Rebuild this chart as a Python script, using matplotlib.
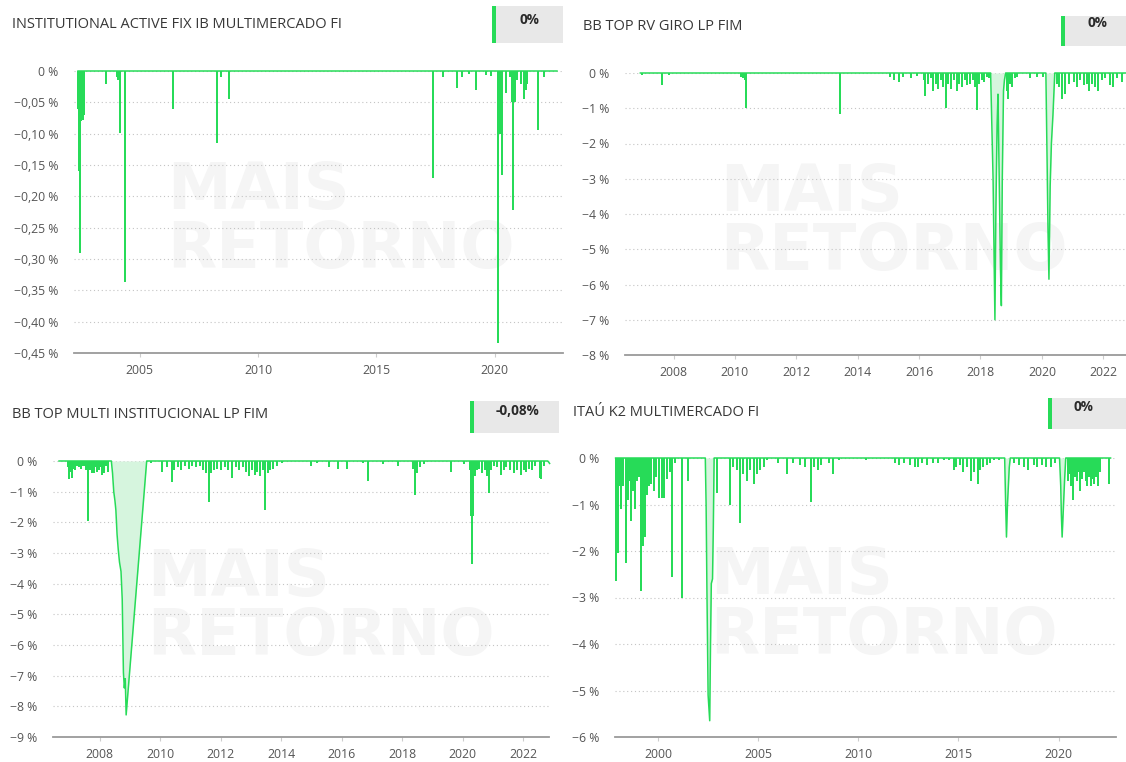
import matplotlib
matplotlib.use('Agg')
import matplotlib.pyplot as plt
from matplotlib.patches import Rectangle

plt.rcParams['font.family'] = ['Open Sans', 'DejaVu Sans']

W, H = 1126, 762
GREEN = '#27db58'
FILL = '#d6f5de'

# ---- data (drawdown in %, dates as decimal years) ----
# INSTITUTIONAL ACTIVE FIX IB MULTIMERCADO FI
iafix_line_yr = [2002.38, 2022.62]
iafix_line_dd = [0, 0]
iafix_spike_yr = [2002.40, 2002.42, 2002.44, 2002.46, 2002.49, 2002.51, 2002.53, 2002.55,
                  2002.57, 2002.59, 2002.61, 2002.63, 2003.56, 2004.05, 2004.10, 2004.15,
                  2004.38, 2006.40, 2008.28, 2008.45, 2008.78, 2017.38, 2017.83, 2018.42,
                  2018.62, 2018.92, 2019.20, 2019.61, 2019.84, 2020.12, 2020.15, 2020.22,
                  2020.29, 2020.47, 2020.65, 2020.74, 2020.78, 2020.85, 2020.95, 2021.10,
                  2021.25, 2021.31, 2021.37, 2021.84, 2022.07]
iafix_spike_dd = [-0.06, -0.16, -0.08, -0.08, -0.29, -0.08, -0.08, -0.078,
                  -0.078, -0.078, -0.075, -0.07, -0.02, -0.01, -0.015, -0.099,
                  -0.336, -0.06, -0.115, -0.01, -0.044, -0.171, -0.01, -0.027,
                  -0.01, -0.005, -0.03, -0.006, -0.008, -0.10, -0.434, -0.10,
                  -0.166, -0.035, -0.01, -0.05, -0.222, -0.05, -0.015, -0.02,
                  -0.045, -0.03, -0.02, -0.094, -0.01]

# BB TOP RV GIRO LP FIM
rvgiro_line_yr = [2006.92, 2018.33, 2018.37, 2018.41, 2018.44, 2018.47, 2018.50, 2018.54,
                  2018.57, 2018.61, 2018.65, 2018.68, 2018.71, 2018.75, 2018.78, 2018.82,
                  2020.13, 2020.17, 2020.20, 2020.23, 2020.27, 2020.31, 2020.36, 2020.42,
                  2022.74]
rvgiro_line_dd = [0, 0, -1.5, -3.0, -5.0, -7.0, -4.0, -1.5,
                  -0.6, -3.0, -5.5, -6.6, -3.0, -0.5, -0.2, 0,
                  0, -2.5, -4.5, -5.85, -3.2, -2.0, -1.2, 0,
                  0]
rvgiro_spike_yr = [2006.98, 2007.63, 2007.86, 2010.20, 2010.26, 2010.32, 2010.35, 2013.42,
                   2015.05, 2015.17, 2015.34, 2015.46, 2015.75, 2015.93, 2016.16, 2016.19,
                   2016.28, 2016.40, 2016.46, 2016.55, 2016.63, 2016.71, 2016.78, 2016.87,
                   2016.95, 2017.04, 2017.13, 2017.22, 2017.30, 2017.39, 2017.49, 2017.57,
                   2017.65, 2017.74, 2017.81, 2017.88, 2017.95, 2018.04, 2018.12, 2018.21,
                   2018.28, 2018.86, 2018.91, 2018.97, 2019.03, 2019.12, 2019.20, 2019.61,
                   2019.85, 2020.03, 2020.48, 2020.55, 2020.65, 2020.76, 2020.87, 2021.03,
                   2021.14, 2021.25, 2021.36, 2021.46, 2021.54, 2021.63, 2021.73, 2021.84,
                   2021.95, 2022.05, 2022.22, 2022.33, 2022.44, 2022.60]
rvgiro_spike_dd = [-0.05, -0.33, -0.05, -0.1, -0.15, -0.2, -1.0, -1.15,
                   -0.1, -0.2, -0.25, -0.1, -0.15, -0.08, -0.2, -0.65,
                   -0.3, -0.15, -0.5, -0.3, -0.45, -0.2, -0.4, -1.0,
                   -0.3, -0.45, -0.2, -0.5, -0.3, -0.4, -0.2, -0.35,
                   -0.3, -0.2, -0.4, -1.05, -0.3, -0.2, -0.25, -0.1,
                   -0.15, -0.5, -0.75, -0.3, -0.4, -0.15, -0.1, -0.15,
                   -0.1, -0.1, -0.3, -0.4, -0.75, -0.6, -0.3, -0.25,
                   -0.4, -0.2, -0.35, -0.3, -0.5, -0.3, -0.4, -0.5,
                   -0.2, -0.15, -0.35, -0.4, -0.15, -0.25]

# BB TOP MULTI INSTITUCIONAL LP FIM
multi_line_yr = [2006.65, 2008.38, 2008.42, 2008.46, 2008.50, 2008.53, 2008.57, 2008.61,
                 2008.65, 2008.70, 2008.74, 2008.78, 2008.81, 2008.84, 2008.87, 2009.55,
                 2022.82, 2022.88]
multi_line_dd = [0, 0, -0.4, -1.0, -1.3, -1.6, -2.4, -2.9,
                 -3.3, -3.6, -4.5, -6.9, -7.4, -7.1, -8.28, 0,
                 0, -0.08]
multi_spike_yr = [2006.95, 2006.99, 2007.04, 2007.07, 2007.13, 2007.19, 2007.25, 2007.31,
                  2007.37, 2007.43, 2007.49, 2007.55, 2007.61, 2007.67, 2007.73, 2007.79,
                  2007.85, 2007.90, 2007.96, 2008.02, 2008.08, 2008.14, 2008.20, 2008.26,
                  2009.69, 2010.05, 2010.23, 2010.38, 2010.46, 2010.58, 2010.70, 2010.82,
                  2010.94, 2011.06, 2011.18, 2011.30, 2011.42, 2011.50, 2011.60, 2011.69,
                  2011.77, 2011.89, 2012.01, 2012.13, 2012.25, 2012.37, 2012.49, 2012.61,
                  2012.73, 2012.85, 2012.93, 2013.02, 2013.12, 2013.21, 2013.31, 2013.40,
                  2013.48, 2013.56, 2013.64, 2013.74, 2013.86, 2014.04, 2014.99, 2015.17,
                  2015.58, 2015.88, 2016.18, 2016.71, 2016.87, 2017.37, 2017.88, 2018.36,
                  2018.44, 2018.50, 2018.60, 2018.71, 2019.63, 2020.05, 2020.24, 2020.29,
                  2020.32, 2020.36, 2020.40, 2020.48, 2020.56, 2020.64, 2020.74, 2020.81,
                  2020.88, 2020.95, 2021.04, 2021.15, 2021.27, 2021.36, 2021.45, 2021.57,
                  2021.69, 2021.81, 2021.93, 2022.02, 2022.11, 2022.19, 2022.29, 2022.40,
                  2022.55, 2022.61, 2022.70]
multi_spike_dd = [-0.2, -0.6, -0.35, -0.55, -0.25, -0.3, -0.15, -0.2,
                  -0.25, -0.15, -0.15, -0.3, -1.95, -0.3, -0.4, -0.4,
                  -0.2, -0.35, -0.3, -0.2, -0.45, -0.4, -0.15, -0.35,
                  -0.05, -0.35, -0.2, -0.7, -0.3, -0.2, -0.3, -0.15,
                  -0.25, -0.15, -0.2, -0.15, -0.3, -0.4, -1.35, -0.4,
                  -0.3, -0.25, -0.3, -0.2, -0.3, -0.55, -0.2, -0.3,
                  -0.2, -0.35, -0.5, -0.3, -0.45, -0.35, -0.5, -0.3,
                  -1.6, -0.4, -0.3, -0.25, -0.15, -0.08, -0.15, -0.05,
                  -0.2, -0.25, -0.25, -0.05, -0.65, -0.1, -0.15, -0.25,
                  -1.1, -0.4, -0.2, -0.1, -0.35, -0.1, -0.3, -1.8,
                  -3.35, -1.8, -0.5, -0.3, -0.25, -0.4, -0.3, -0.5,
                  -1.05, -0.3, -0.15, -0.2, -0.45, -0.3, -0.2, -0.3,
                  -0.4, -0.3, -0.45, -0.3, -0.35, -0.25, -0.3, -0.15,
                  -0.55, -0.6, -0.15]

# ITAU K2 MULTIMERCADO FI
k2_line_yr = [1997.88, 2002.36, 2002.40, 2002.44, 2002.50, 2002.58, 2002.62, 2002.66,
              2002.72, 2002.76, 2002.80, 2017.31, 2017.36, 2017.40, 2017.45, 2017.54,
              2017.59, 2020.05, 2020.11, 2020.14, 2020.18, 2020.23, 2020.30, 2020.36,
              2022.60]
k2_line_dd = [0, 0, -1.0, -2.8, -5.1, -5.65, -4.0, -2.7,
              -2.6, -1.5, 0, 0, -1.0, -1.7, -1.0, -0.2,
              0, 0, -0.6, -1.2, -1.7, -1.2, -0.5, 0,
              0]
k2_spike_yr = [1997.89, 1998.00, 1998.08, 1998.17, 1998.25, 1998.39, 1998.50, 1998.58,
               1998.64, 1998.75, 1998.85, 1998.95, 1999.05, 1999.16, 1999.25, 1999.34,
               1999.45, 1999.55, 1999.67, 1999.79, 1999.92, 2000.06, 2000.18, 2000.29,
               2000.43, 2000.59, 2000.72, 2000.84, 2001.22, 2001.51, 2002.96, 2003.59,
               2003.76, 2003.93, 2004.09, 2004.26, 2004.43, 2004.60, 2004.80, 2004.94,
               2005.10, 2005.27, 2005.44, 2006.01, 2006.42, 2006.73, 2007.09, 2007.35,
               2007.62, 2007.80, 2007.98, 2008.16, 2008.52, 2008.74, 2009.06, 2010.40,
               2011.84, 2012.02, 2012.29, 2012.56, 2012.83, 2013.00, 2013.18, 2013.45,
               2013.72, 2013.99, 2014.26, 2014.53, 2014.76, 2014.89, 2015.07, 2015.25,
               2015.43, 2015.64, 2015.78, 2015.96, 2016.09, 2016.23, 2016.41, 2016.59,
               2016.77, 2017.04, 2017.76, 2018.03, 2018.30, 2018.48, 2018.75, 2018.92,
               2019.19, 2019.37, 2019.64, 2019.82, 2020.45, 2020.54, 2020.63, 2020.72,
               2020.81, 2020.90, 2020.99, 2021.08, 2021.17, 2021.26, 2021.35, 2021.44,
               2021.53, 2021.61, 2021.70, 2021.79, 2021.88, 2021.97, 2022.06, 2022.51]
k2_spike_dd = [-2.65, -2.05, -0.6, -1.1, -0.6, -2.25, -0.9, -0.5,
               -1.35, -0.7, -1.1, -0.5, -0.4, -2.85, -1.9, -1.7,
               -0.8, -0.6, -0.55, -0.7, -0.4, -0.85, -0.85, -0.85,
               -0.45, -0.3, -2.55, -0.1, -3.0, -0.5, -0.75, -1.0,
               -0.2, -0.25, -1.4, -0.35, -0.5, -0.25, -0.55, -0.35,
               -0.25, -0.2, -0.05, -0.1, -0.35, -0.1, -0.15, -0.2,
               -0.95, -0.2, -0.25, -0.15, -0.1, -0.35, -0.05, -0.05,
               -0.1, -0.15, -0.1, -0.15, -0.2, -0.2, -0.1, -0.15,
               -0.1, -0.1, -0.05, -0.05, -0.25, -0.2, -0.15, -0.3,
               -0.2, -0.5, -0.3, -0.55, -0.25, -0.2, -0.15, -0.1,
               -0.05, -0.05, -0.1, -0.15, -0.2, -0.25, -0.15, -0.2,
               -0.15, -0.2, -0.2, -0.1, -0.5, -0.35, -0.6, -0.9,
               -0.4, -0.5, -0.3, -0.7, -0.45, -0.3, -0.5, -0.6,
               -0.4, -0.6, -0.45, -0.55, -0.4, -0.6, -0.3, -0.55]

titles = ['INSTITUTIONAL ACTIVE FIX IB MULTIMERCADO FI', 'BB TOP RV GIRO LP FIM',
          'BB TOP MULTI INSTITUCIONAL LP FIM', 'ITAÚ K2 MULTIMERCADO FI']
badges = ['0%', '0%', '-0,08%', '0%']


def pct_label(v, dec):
    if v == 0:
        return '0 %'
    return '\u2212' + f'{abs(v):.{dec}f}'.replace('.', ',') + ' %'


def px_axes(left, top, right, bottom):
    return fig.add_axes([left / W, 1 - bottom / H, (right - left) / W, (bottom - top) / H])


def panel(ax, line_yr, line_dd, spk_yr, spk_dd, ymin, ystep, dec, xticks, xlim):
    ax.fill_between(line_yr, line_dd, 0, color=FILL, lw=0, zorder=2)
    ax.vlines(spk_yr, 0, spk_dd, color=GREEN, lw=1.2, zorder=3, antialiased=False)
    ax.plot(line_yr, line_dd, color=GREEN, lw=1.1, zorder=3, clip_on=False)
    ax.set_xlim(xlim)
    ax.set_ylim(ymin, 0)
    n = int(round(-ymin / ystep))
    yt = [-i * ystep for i in range(n + 1)]
    ax.set_yticks(yt)
    ax.set_yticklabels([pct_label(v, dec) for v in yt])
    ax.set_xticks(xticks)
    ax.set_xticklabels([str(x) for x in xticks])
    ax.grid(axis='y', color='#c4c4c4', ls=(0, (1, 2.5)), lw=0.8)
    ax.set_axisbelow(True)
    for s in ['top', 'right', 'left']:
        ax.spines[s].set_visible(False)
    ax.spines['bottom'].set_color('#9a9a9a')
    ax.spines['bottom'].set_linewidth(1.3)
    ax.tick_params(axis='y', length=0, pad=11, labelsize=8.8, labelcolor='#555555')
    ax.tick_params(axis='x', length=3, color='#cccccc', pad=5, labelsize=8.8,
                   labelcolor='#555555')
    ax.patch.set_alpha(0)
    # faint site watermark
    ax.text(0.19, 0.47, 'MAIS\nRETORNO', transform=ax.transAxes, ha='left', va='center',
            fontsize=46, fontweight='bold', color='#f5f5f5', linespacing=0.95,
            family=['DejaVu Sans'], zorder=0)


def badge(x0, x1, y0, y1, txt, tx, ty):
    fig.add_artist(Rectangle((x0 / W + 4 / W, 1 - y1 / H), (x1 - x0 - 4) / W, (y1 - y0) / H,
                             transform=fig.transFigure, color='#e8e8e8', lw=0))
    fig.add_artist(Rectangle((x0 / W, 1 - y1 / H), 4 / W, (y1 - y0) / H,
                             transform=fig.transFigure, color=GREEN, lw=0))
    fig.text(tx / W, 1 - ty / H, txt, ha='center', va='center', fontsize=9.8,
             fontweight='bold', color='#2a2a2a')


fig = plt.figure(figsize=(W / 100, H / 100), dpi=100)
fig.patch.set_facecolor('white')

ax1 = px_axes(74, 71, 563, 353)
panel(ax1, iafix_line_yr, iafix_line_dd, iafix_spike_yr, iafix_spike_dd,
      -0.45, 0.05, 2, [2005, 2010, 2015, 2020], (2002.22, 2022.88))
ax2 = px_axes(625, 73, 1126, 355)
panel(ax2, rvgiro_line_yr, rvgiro_line_dd, rvgiro_spike_yr, rvgiro_spike_dd,
      -8, 1, 0, list(range(2008, 2023, 2)), (2006.42, 2022.74))
ax3 = px_axes(53, 461, 549, 737)
panel(ax3, multi_line_yr, multi_line_dd, multi_spike_yr, multi_spike_dd,
      -9, 1, 0, list(range(2008, 2023, 2)), (2006.45, 2022.86))
ax4 = px_axes(615, 458, 1116, 737)
panel(ax4, k2_line_yr, k2_line_dd, k2_spike_yr, k2_spike_dd,
      -6, 1, 0, [2000, 2005, 2010, 2015, 2020], (1997.85, 2022.87))

title_pos = [(12, 25), (583, 27), (12, 415), (573, 412)]
for (tx, ty), t in zip(title_pos, titles):
    fig.text(tx / W, 1 - ty / H, t, ha='left', va='center', fontsize=10.5, color='#383838')

badge(492, 563, 6, 43, badges[0], 529, 20)
badge(1061, 1126, 16, 46, badges[1], 1097, 23)
badge(470, 559, 401, 433, badges[2], 517, 411)
badge(1048, 1126, 398, 429, badges[3], 1083, 407)

fig.savefig('out.png', dpi=100)
